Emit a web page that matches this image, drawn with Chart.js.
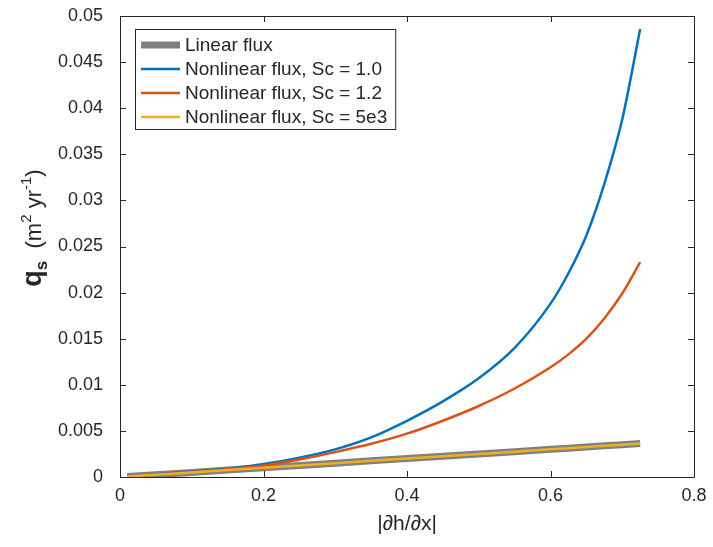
<!DOCTYPE html>
<html>
<head>
<meta charset="utf-8">
<script src="https://cdn.jsdelivr.net/npm/chart.js@4"></script>
<style>
  html, body { margin: 0; padding: 0; background: #fff; }
  #wrap { width: 713px; height: 547px; }
</style>
</head>
<body>
<div id="wrap"><canvas id="fluxChart" width="713" height="547"></canvas></div>
<script>
// |dh/dx| sample points
var slope = [0.01, 0.05, 0.1, 0.15, 0.2, 0.25, 0.3, 0.35, 0.4, 0.45, 0.5, 0.55, 0.6, 0.625, 0.65, 0.675, 0.7, 0.725];
var linearFlux = [0.00005, 0.00025, 0.0005, 0.00075, 0.001, 0.00125, 0.0015, 0.00175, 0.002, 0.00225, 0.0025, 0.00275, 0.003, 0.00313, 0.00325, 0.00338, 0.0035, 0.00363];
var fluxSc10 = [0.00005, 0.00026, 0.00056, 0.0009, 0.0014, 0.0021, 0.003, 0.0043, 0.0061, 0.0082, 0.0107, 0.014, 0.0188, 0.0221, 0.0262, 0.0318, 0.0388, 0.0486];
var fluxSc12 = [0.00005, 0.00026, 0.00053, 0.00085, 0.00125, 0.0019, 0.0027, 0.0036, 0.0047, 0.0061, 0.0077, 0.0096, 0.0119, 0.0133, 0.015, 0.0172, 0.0199, 0.0233];
var fluxSc5e3 = [0.00005, 0.00025, 0.0005, 0.00075, 0.001, 0.00125, 0.0015, 0.00175, 0.002, 0.00225, 0.0025, 0.00275, 0.003, 0.00313, 0.00325, 0.00338, 0.0035, 0.00363];

var seriesLabels = ['Linear flux', 'Nonlinear flux, Sc = 1.0', 'Nonlinear flux, Sc = 1.2', 'Nonlinear flux, Sc = 5e3'];
var xTickLabels = ['0', '0.2', '0.4', '0.6', '0.8'];
var yTickLabels = ['0', '0.005', '0.01', '0.015', '0.02', '0.025', '0.03', '0.035', '0.04', '0.045', '0.05'];

var axisColor = '#262626';
var fontFamily = '"Liberation Sans", Arial, Helvetica, sans-serif';

function toPoints(ys) {
    return slope.map(function (s, i) { return { x: s, y: ys[i] }; });
}

// inward ticks + box like matlab axes
var boxPlugin = {
    id: 'boxAxes',
    afterDraw: function (chart) {
        var ctx = chart.ctx;
        var a = chart.chartArea;
        var xs = chart.scales.x, ys = chart.scales.y;
        var len = 6;
        ctx.save();
        ctx.strokeStyle = axisColor;
        ctx.lineWidth = 1;
        ctx.strokeRect(Math.round(a.left) + 0.5, Math.round(a.top) + 0.5, Math.round(a.right - a.left), Math.round(a.bottom - a.top));
        ctx.beginPath();
        xTickLabels.forEach(function (t) {
            var px = Math.round(xs.getPixelForValue(Number(t))) + 0.5;
            ctx.moveTo(px, a.bottom); ctx.lineTo(px, a.bottom - len);
            ctx.moveTo(px, a.top); ctx.lineTo(px, a.top + len);
        });
        yTickLabels.forEach(function (t) {
            var py = Math.round(ys.getPixelForValue(Number(t))) + 0.5;
            ctx.moveTo(a.left, py); ctx.lineTo(a.left + len, py);
            ctx.moveTo(a.right, py); ctx.lineTo(a.right - len, py);
        });
        ctx.stroke();
        ctx.restore();
    }
};

// axis titles with sub/superscripts
var titlePlugin = {
    id: 'axisTitles',
    afterDraw: function (chart) {
        var ctx = chart.ctx;
        var a = chart.chartArea;
        ctx.save();
        ctx.fillStyle = axisColor;
        ctx.textBaseline = 'alphabetic';
        ctx.textAlign = 'center';
        ctx.font = '21px ' + fontFamily;
        ctx.fillText('|\u2202h/\u2202x|', (a.left + a.right) / 2, 530);

        var parts = [
            { t: 'q', f: 'bold 27px ', dy: 0 },
            { t: 's', f: 'bold 17px ', dy: 6 },
            { t: '  (m', f: '22px ', dy: 0 },
            { t: '2', f: '15px ', dy: -10 },
            { t: ' yr', f: '22px ', dy: 0 },
            { t: '-1', f: '15px ', dy: -10 },
            { t: ')', f: '22px ', dy: 0 }
        ];
        var total = 0;
        parts.forEach(function (p) { ctx.font = p.f + fontFamily; p.w = ctx.measureText(p.t).width; total += p.w; });
        ctx.translate(41, 228);
        ctx.rotate(-Math.PI / 2);
        ctx.textAlign = 'left';
        var cx = -total / 2;
        parts.forEach(function (p) {
            ctx.font = p.f + fontFamily;
            ctx.fillText(p.t, cx, p.dy);
            cx += p.w;
        });
        ctx.restore();
    }
};

// legend inside the axes, top left
var legendPlugin = {
    id: 'innerLegend',
    afterDraw: function (chart) {
        var ctx = chart.ctx;
        var left = 135, top = 29, rowH = 24;
        ctx.save();
        ctx.font = '19px ' + fontFamily;
        var maxW = 0;
        seriesLabels.forEach(function (l) { maxW = Math.max(maxW, ctx.measureText(l).width); });
        var w = 50 + maxW + 8, h = rowH * seriesLabels.length + 4;
        ctx.fillStyle = '#fff';
        ctx.fillRect(left, top, w, h);
        ctx.strokeStyle = axisColor;
        ctx.lineWidth = 1;
        ctx.strokeRect(left + 0.5, top + 0.5, w, h);
        seriesLabels.forEach(function (l, i) {
            var ds = chart.data.datasets[i];
            var cy = top + 16 + i * rowH;
            ctx.strokeStyle = ds.borderColor;
            ctx.lineWidth = ds.borderWidth;
            ctx.beginPath();
            ctx.moveTo(left + 6, cy); ctx.lineTo(left + 45, cy);
            ctx.stroke();
            ctx.fillStyle = axisColor;
            ctx.textBaseline = 'middle';
            ctx.fillText(l, left + 50, cy + 1);
        });
        ctx.restore();
    }
};

document.addEventListener('DOMContentLoaded', function () {
    var ctx = document.getElementById('fluxChart').getContext('2d');
    new Chart(ctx, {
        type: 'line',
        data: {
            datasets: [
                { label: seriesLabels[0], data: toPoints(linearFlux), borderColor: '#808080', borderWidth: 7, order: 3 },
                { label: seriesLabels[1], data: toPoints(fluxSc10), borderColor: '#0072BD', borderWidth: 2.5, order: 2, cubicInterpolationMode: 'monotone' },
                { label: seriesLabels[2], data: toPoints(fluxSc12), borderColor: '#D95319', borderWidth: 2.5, order: 1, cubicInterpolationMode: 'monotone' },
                { label: seriesLabels[3], data: toPoints(fluxSc5e3), borderColor: '#EDB120', borderWidth: 2.5, order: 0 }
            ]
        },
        options: {
            responsive: false,
            animation: false,
            parsing: false,
            elements: { point: { radius: 0 } },
            layout: { padding: { top: 16, right: 19, left: 0, bottom: 0 } },
            plugins: { legend: { display: false }, tooltip: { enabled: false } },
            scales: {
                x: {
                    type: 'linear',
                    min: 0,
                    max: 0.8,
                    grid: { display: false, drawTicks: false },
                    border: { display: false },
                    afterBuildTicks: function (scale) {
                        scale.ticks = xTickLabels.map(function (t) { return { value: Number(t) }; });
                    },
                    afterFit: function (scale) {
                        scale.height = 70;
                        scale.paddingLeft = 0;
                        scale.paddingRight = 0;
                    },
                    ticks: {
                        padding: 8,
                        color: axisColor,
                        font: { family: fontFamily, size: 18 },
                        maxRotation: 0,
                        callback: function (v, i) { return xTickLabels[i]; }
                    }
                },
                y: {
                    type: 'linear',
                    min: 0,
                    max: 0.05,
                    grid: { display: false, drawTicks: false },
                    border: { display: false },
                    afterBuildTicks: function (scale) {
                        scale.ticks = yTickLabels.map(function (t) { return { value: Number(t) }; });
                    },
                    afterFit: function (scale) {
                        scale.width = 120;
                        scale.paddingTop = 0;
                        scale.paddingBottom = 0;
                    },
                    ticks: {
                        padding: 17,
                        color: axisColor,
                        font: { family: fontFamily, size: 18 },
                        callback: function (v, i) { return yTickLabels[i]; }
                    }
                }
            }
        },
        plugins: [boxPlugin, legendPlugin, titlePlugin]
    });
});
</script>
</body>
</html>
